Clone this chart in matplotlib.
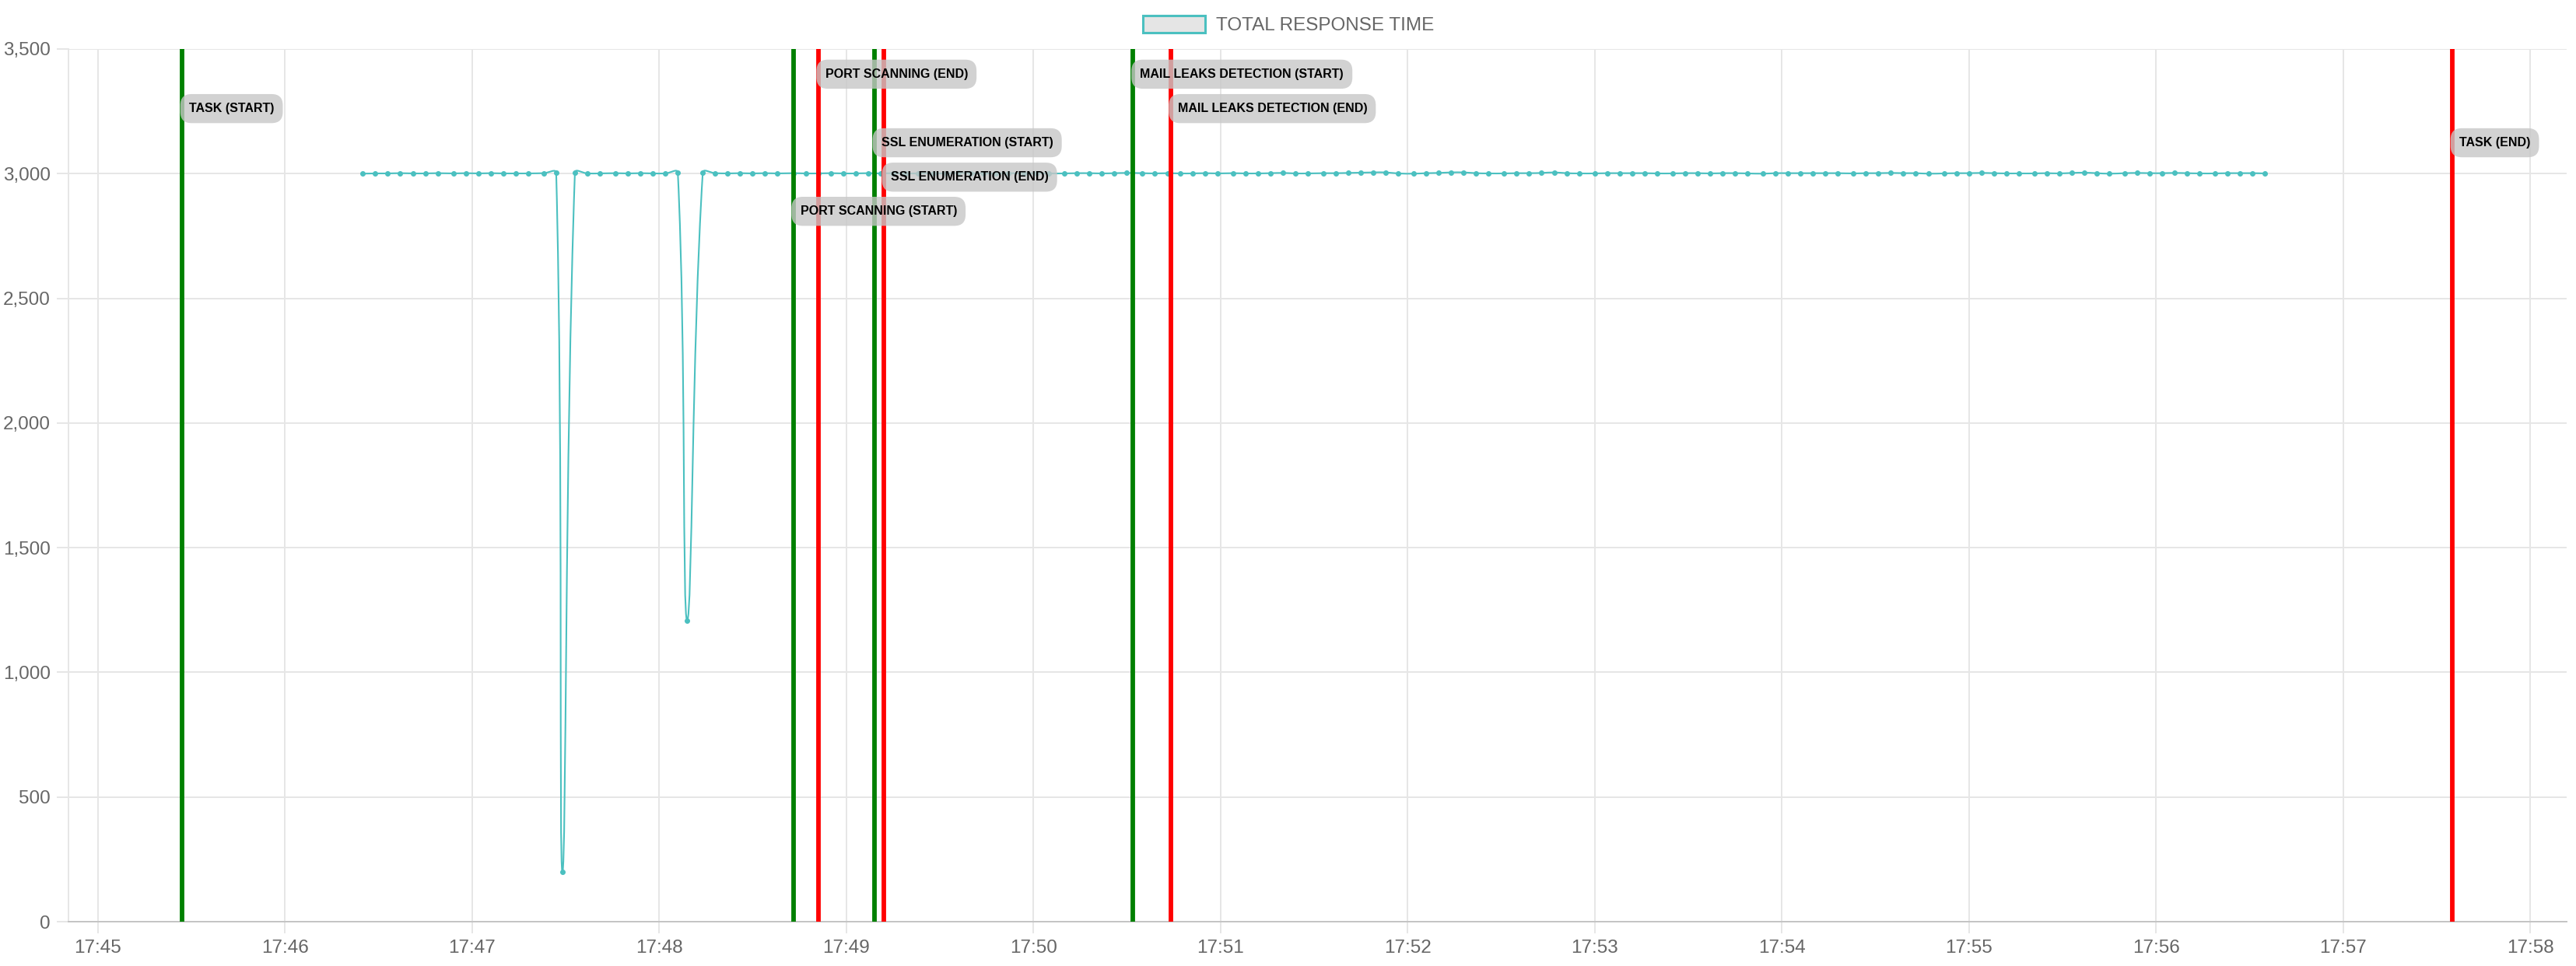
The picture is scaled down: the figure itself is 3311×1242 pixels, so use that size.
import numpy as np
import matplotlib
matplotlib.use("Agg")
import matplotlib.pyplot as plt
import matplotlib.dates as mdates
from matplotlib.path import Path
from matplotlib.patches import PathPatch, Patch
from matplotlib.ticker import FuncFormatter, MultipleLocator

plt.rcParams['font.family'] = ['Liberation Sans', 'DejaVu Sans']

# seconds after 17:45:00
sample_secs = [
    85, 89, 93, 97, 101, 105, 109, 114, 118, 122,
    126, 130, 134, 138, 143, 147, 149, 153, 157, 161,
    166, 170, 174, 178, 182, 186, 189, 194, 198, 202,
    206, 210, 214, 218, 223, 227, 231, 235, 239, 243,
    247, 251, 255, 259, 263, 268, 272, 276, 280, 284,
    288, 292, 297, 301, 305, 310, 314, 318, 322, 326,
    330, 335, 339, 343, 347, 351, 355, 359, 364, 368,
    372, 376, 380, 384, 388, 393, 397, 401, 405, 409,
    413, 417, 422, 426, 430, 434, 438, 442, 446, 451,
    455, 459, 463, 467, 471, 475, 480, 484, 488, 492,
    496, 500, 505, 509, 513, 517, 521, 525, 529, 534,
    538, 542, 546, 550, 554, 558, 563, 567, 571, 575,
    579, 583, 587, 592, 596, 600, 604, 608, 612, 616,
    621, 625, 629, 633, 637, 641, 645, 650, 654, 658,
    662, 666, 670, 674, 679, 683, 687, 691, 695,
]

# total response time (ms)
response_ms = [
    3000, 3001, 3001, 3002, 3001, 3001, 3002, 3001, 3002, 3001,
    3002, 3001, 3001, 3001, 3002, 3003, 200, 3004, 3001, 3001,
    3002, 3001, 3002, 3001, 3001, 3004, 1208, 3004, 3002, 3001,
    3002, 3001, 3002, 3001, 3002, 3001, 3001, 3002, 3001, 3001,
    3002, 3001, 3002, 3001, 3001, 3002, 3001, 3003, 3002, 3001,
    3001, 3002, 3001, 3002, 3001, 3001, 3002, 3002, 3001, 3002,
    3003, 3002, 3001, 3002, 3001, 3001, 3002, 3001, 3002, 3001,
    3001, 3002, 3003, 3001, 3001, 3002, 3002, 3003, 3004, 3005,
    3005, 3001, 3000, 3002, 3003, 3005, 3005, 3002, 3001, 3001,
    3002, 3002, 3003, 3005, 3002, 3001, 3001, 3002, 3002, 3002,
    3002, 3001, 3001, 3002, 3002, 3001, 3002, 3002, 3001, 3000,
    3002, 3002, 3002, 3002, 3002, 3002, 3001, 3002, 3002, 3003,
    3002, 3002, 3000, 3001, 3002, 3002, 3003, 3002, 3001, 3001,
    3001, 3002, 3001, 3003, 3004, 3002, 3000, 3002, 3003, 3002,
    3002, 3003, 3002, 3001, 3001, 3002, 3002, 3002, 3001,
]
assert len(sample_secs) == len(response_ms)

event_names = ["TASK (START)", "PORT SCANNING (START)", "PORT SCANNING (END)",
               "SSL ENUMERATION (START)", "SSL ENUMERATION (END)",
               "MAIL LEAKS DETECTION (START)", "MAIL LEAKS DETECTION (END)",
               "TASK (END)"]
event_secs = [27, 223, 231, 249, 252, 332, 344, 755]
event_kind = ["start", "start", "end", "start", "end", "start", "end", "end"]

# label rows (y of box centre, data units) - layout only
label_rows = [3261, 2849, 3399, 3124, 2986, 3399, 3261, 3124]

TEAL = "#4bc0c0"
W, H = 3312, 1242

t0 = mdates.date2num(np.datetime64("2024-01-01T17:45:00"))
def to_num(s):
    return t0 + np.asarray(s, dtype=float) / 86400.0

fig = plt.figure(figsize=(W / 100, H / 100), dpi=100)
ax = fig.add_axes([88 / W, 1 - 1185 / H, (3299 - 88) / W, (1185 - 63) / H])

# chart.js style bezier (tension 0.4) computed in pixel space
px_s = 240.5 / 60.0
px_ms = 1122.0 / 3500.0
P = np.column_stack([np.array(sample_secs) * px_s, np.array(response_ms) * px_ms])
n = len(P)
cp_prev = np.zeros_like(P)
cp_next = np.zeros_like(P)
tension = 0.4
for i in range(n):
    a = P[i - 1] if i > 0 else P[i]
    b = P[i]
    c = P[i + 1] if i < n - 1 else P[i]
    d01 = np.hypot(*(b - a))
    d12 = np.hypot(*(c - b))
    tot = d01 + d12
    s01 = d01 / tot if tot else 0
    s12 = d12 / tot if tot else 0
    cp_prev[i] = b - tension * s01 * (c - a)
    cp_next[i] = b + tension * s12 * (c - a)

verts = [P[0]]
codes = [Path.MOVETO]
for i in range(n - 1):
    verts += [cp_next[i], cp_prev[i + 1], P[i + 1]]
    codes += [Path.CURVE4] * 3
verts = np.array(verts)
verts = np.column_stack([to_num(verts[:, 0] / px_s), verts[:, 1] / px_ms])
ax.add_patch(PathPatch(Path(verts, codes), facecolor="none", edgecolor=TEAL,
                       lw=1.5, zorder=2))
ax.plot(to_num(sample_secs), response_ms, "o", ms=4.0, color=TEAL, mec=TEAL, zorder=2)

# event lines + labels
for name, s, kind, ry in zip(event_names, event_secs, event_kind, label_rows):
    col = "green" if kind == "start" else "red"
    ax.axvline(to_num(s), color=col, lw=4.2, zorder=3)
    ax.annotate(name, xy=(to_num(s), ry), xytext=(6.5, 0), textcoords="offset points",
                ha="left", va="center", fontsize=11.5, fontweight="bold", color="black",
                zorder=5,
                bbox=dict(boxstyle="round,pad=0.7,rounding_size=0.9",
                          facecolor=(0.78, 0.78, 0.78, 0.8), edgecolor="none"))

ax.set_xlim(to_num(-9.4), to_num(791.7))
ax.set_ylim(0, 3500)
ax.xaxis.set_major_locator(mdates.MinuteLocator())
ax.xaxis.set_major_formatter(mdates.DateFormatter("%H:%M"))
ax.yaxis.set_major_locator(MultipleLocator(500))
ax.yaxis.set_major_formatter(FuncFormatter(lambda v, p: f"{int(v):,}"))

ax.grid(True, color="#e6e6e6", lw=1.4, zorder=0)
ax.set_axisbelow(True)
for sp in ["top", "right"]:
    ax.spines[sp].set_visible(False)
ax.spines["left"].set_color("#e6e6e6")
ax.spines["left"].set_linewidth(1.4)
ax.spines["bottom"].set_color("#c4c4c4")
ax.spines["bottom"].set_linewidth(1.4)
ax.tick_params(axis="both", length=10.5, width=1.4, color="#e6e6e6",
               labelcolor="#666666", labelsize=17.5)
ax.tick_params(axis="x", pad=6)
ax.tick_params(axis="y", pad=6)

fig.legend(handles=[Patch(facecolor=(0, 0, 0, 0.1), edgecolor=TEAL, linewidth=2.2)],
           labels=["TOTAL RESPONSE TIME"], loc="center",
           bbox_to_anchor=(0.5, 1 - 32 / H), frameon=False, fontsize=17.5,
           handlelength=3.3, handleheight=1.0, handletextpad=0.55,
           labelcolor="#666666")

fig.savefig("out.png", dpi=100)
